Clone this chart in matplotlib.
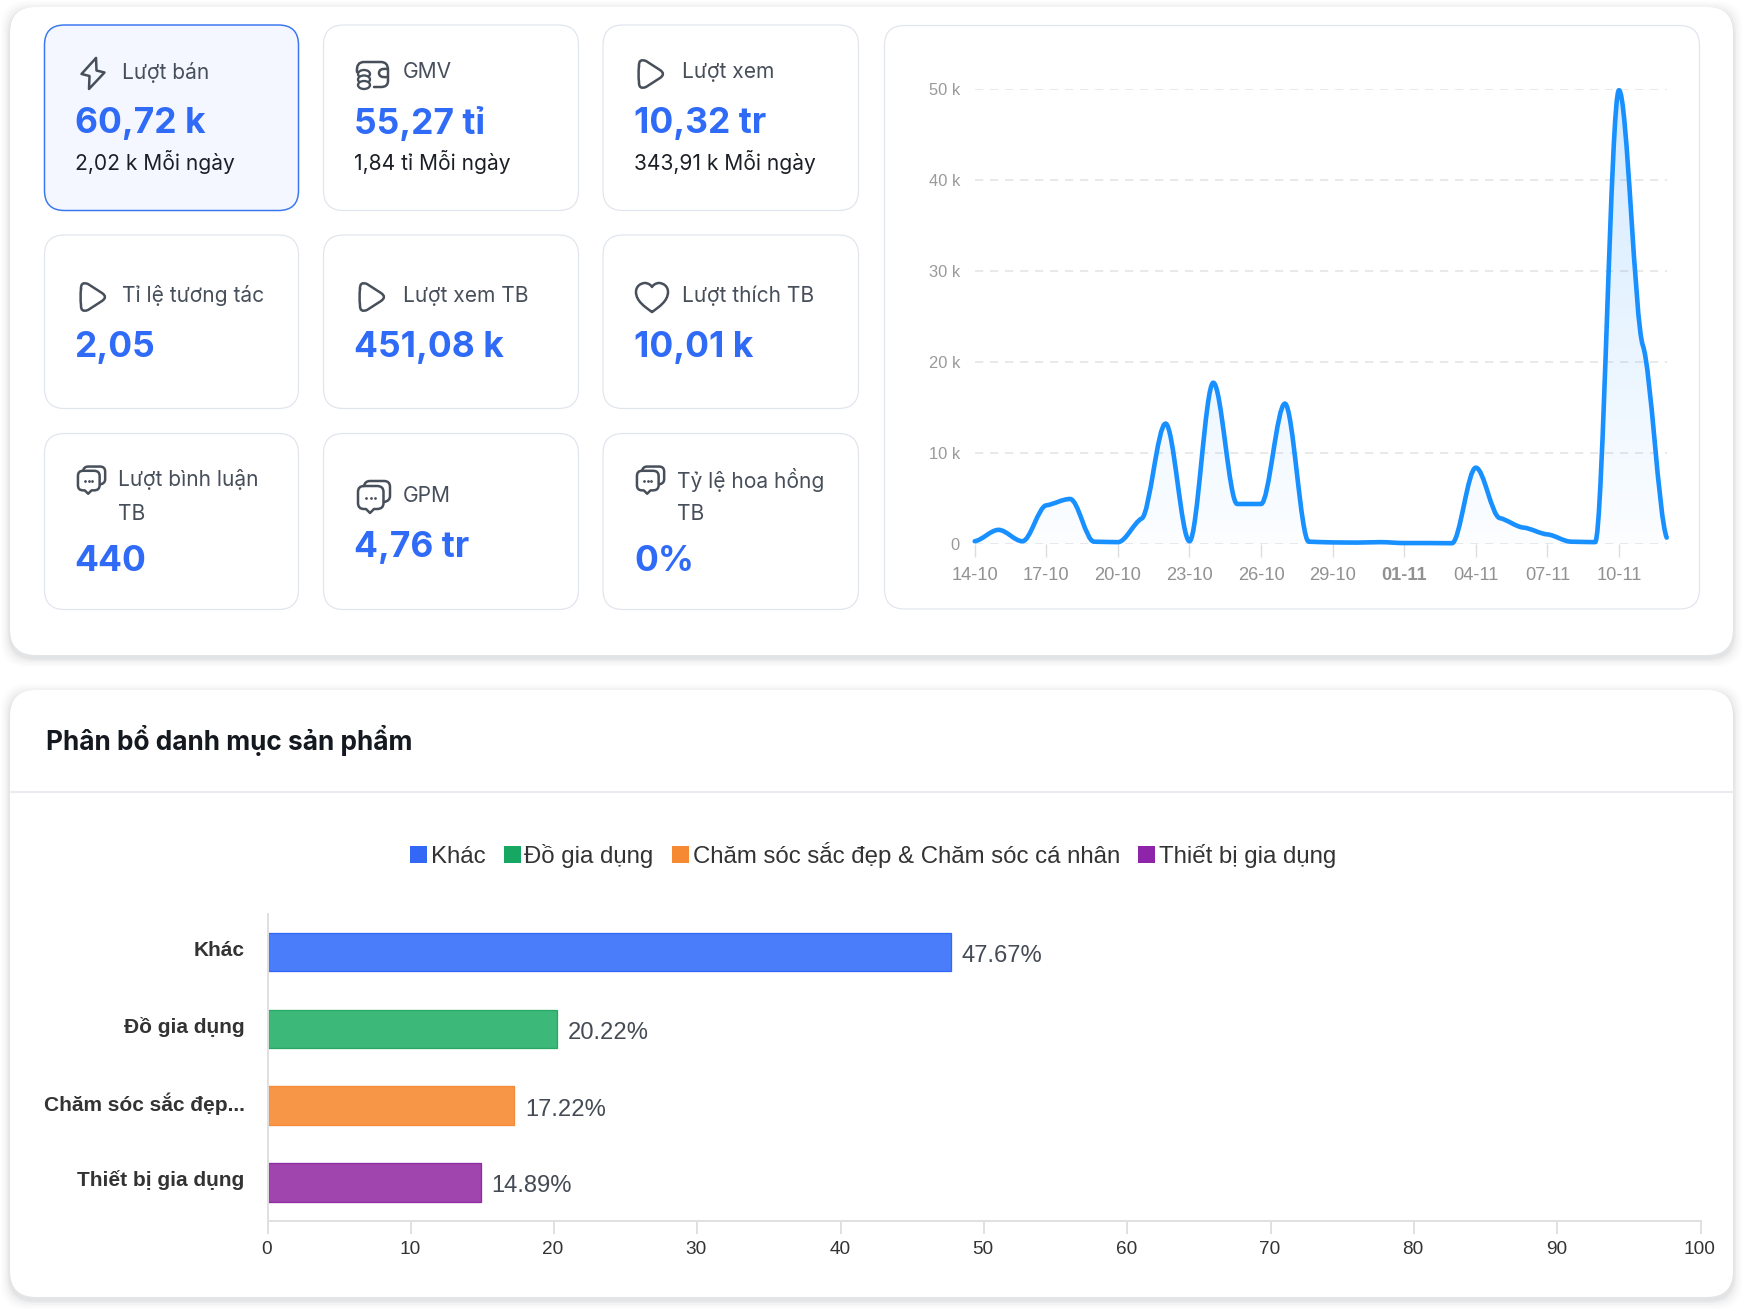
import numpy as np
from matplotlib import pyplot as plt
from matplotlib.patches import Ellipse, FancyBboxPatch, PathPatch, Rectangle
from matplotlib.path import Path
from matplotlib.transforms import ScaledTranslation

# 指标卡片
card_titles = [['Lượt bán', 'GMV', 'Lượt xem'],
               ['Tỉ lệ tương tác', 'Lượt xem TB', 'Lượt thích TB'],
               ['Lượt bình luận\nTB', 'GPM', 'Tỷ lệ hoa hồng\nTB']]
card_values = [['60,72 k', '55,27 tỉ', '10,32 tr'],
               ['2,05', '451,08 k', '10,01 k'],
               ['440', '4,76 tr', '0%']]
card_daily = ['2,02 k Mỗi ngày', '1,84 tỉ Mỗi ngày', '343,91 k Mỗi ngày']

# 折线图
daily_sales = [250, 1500, 250, 4200, 4900, 200, 150, 2750, 13200, 250,
               17700, 4350, 4350, 15400, 200, 120, 100, 150, 50, 50,
               30, 8350, 2800, 1750, 1000, 200, 150, 49900, 21800, 650]
date_labels = ['14-10', '17-10', '20-10', '23-10', '26-10', '29-10', '01-11', '04-11', '07-11', '10-11']
y_ticks = [0, 10000, 20000, 30000, 40000, 50000]
y_labels = ['0', '10 k', '20 k', '30 k', '40 k', '50 k']

# 条形图
categories = ['Khác', 'Đồ gia dụng', 'Chăm sóc sắc đẹp...', 'Thiết bị gia dụng']
legend_names = ['Khác', 'Đồ gia dụng', 'Chăm sóc sắc đẹp & Chăm sóc cá nhân', 'Thiết bị gia dụng']
shares = [47.67, 20.22, 17.22, 14.89]
bar_fill = ['#4a7dfa', '#3cb878', '#f79646', '#a044ae']
bar_edge = ['#3268f5', '#27a865', '#f58a3a', '#8e2da0']
legend_colors = ['#3268f5', '#16a862', '#f58a32', '#8e24aa']

W, H = 1744, 1311
px = 72 / 100

fig = plt.figure(figsize=(W / 100, H / 100), dpi=100)

# 背景层, 坐标单位是像素
bg = fig.add_axes([0, 0, 1, 1])
bg.set_xlim(0, W)
bg.set_ylim(H, 0)
bg.axis('off')


def round_box(x0, y0, x1, y1, r, fc='white', ec='none', lw=1.0, z=1, alpha=None):
    p = FancyBboxPatch((x0 + r, y0 + r), x1 - x0 - 2 * r, y1 - y0 - 2 * r,
                       boxstyle='round,pad=%f,rounding_size=%f' % (r, r),
                       fc=fc, ec=ec, lw=lw, zorder=z, alpha=alpha)
    bg.add_patch(p)


# 大卡片和阴影
for x0, y0, x1, y1 in [(10, 7, 1733, 655), (10, 690, 1733, 1297)]:
    for grow, a in [(9, 0.012), (7, 0.016), (5, 0.02), (3, 0.03), (1.5, 0.04)]:
        round_box(x0 - grow, y0 - grow + 3, x1 + grow, y1 + grow + 3, 26, fc='#1f2a3a', z=0.5, alpha=a)
    round_box(x0, y0, x1, y1, 26)
bg.plot([10, 1733], [791.5, 791.5], color='#e8ebf0', lw=1.4, zorder=2)

col_x = [(44.5, 298.5), (323.5, 578.5), (603, 858.5)]
row_y = [(25, 210.5), (235, 408.5), (433.5, 609.5)]
ink = '#474f5b'
blue = '#2f6bf6'
M, L, C3, C4 = Path.MOVETO, Path.LINETO, Path.CURVE3, Path.CURVE4


def stroke(x, y, pts, codes=None, s=1.0):
    verts = [(x + a * s, y + b * s) for a, b in pts]
    bg.add_patch(PathPatch(Path(verts, codes), fc='none', ec=ink, lw=2.5 * px, zorder=4,
                           capstyle='round', joinstyle='round'))


def icon_bolt(x, y, s=1.0):
    pts = [(3, -16), (-11.5, 0), (-3.5, 2), (-4, 15), (11.5, -1.5), (3.5, -3.5), (3, -16)]
    stroke(x, y, pts, None, s)


def icon_play(x, y, s=1.0):
    pts = [(-12, -8), (-12.5, -16), (-5, -13), (9, -4), (15, 0), (9, 4), (-5, 13), (-12.5, 16), (-12, 8),
           (-13, 0), (-12, -8)]
    stroke(x, y, pts, [M, C3, C3, L, C3, C3, L, C3, C3, C3, C3], s)


def icon_heart(x, y, s=1.0):
    pts = [(0, 15), (-7, 10), (-16, 4), (-16, -5), (-16, -11), (-11, -14), (-7, -14),
           (-4, -14), (-1, -12), (0, -10), (1, -12), (4, -14), (7, -14),
           (11, -14), (16, -11), (16, -5), (16, 4), (7, 10), (0, 15)]
    stroke(x, y, pts, [M] + [C4] * 18, s)


def icon_chat(x, y, s=1.0):
    # 后面一层气泡
    stroke(x, y, [(-7, -12), (-6, -17), (-1, -17), (13, -17), (19, -17), (19, -11), (19, -2), (19, 3), (13, 4)],
           [M, C3, C3, L, C3, C3, L, C3, C3], s)
    # 前面一层气泡
    pts = [(-7, -12), (6, -12), (12.5, -12), (12.5, -6), (12.5, 5), (12.5, 11), (6, 11), (3, 11), (-1, 15), (-5, 11),
           (-7, 11), (-13, 11), (-13, 5), (-13, -6), (-13, -12), (-7, -12)]
    stroke(x, y, pts, [M, L, C3, C3, L, C3, C3, L, L, L, L, C3, C3, L, C3, C3], s)
    bg.scatter([x - 5 * s, x - 0.5 * s, x + 4 * s], [y, y, y], s=4, color=ink, zorder=4, lw=0)


def icon_coin(x, y, s=1.0):
    # 钱包外框
    stroke(x, y, [(-15, -2), (-16, -12), (-8, -12), (9, -12), (16, -12), (16, -4), (16, 7), (16, 13), (9, 13), (2, 13)],
           [M, C3, C3, L, C3, C3, L, C3, C3, L], s)
    # 搭扣
    stroke(x, y, [(15, -5), (7, -6), (7, -1), (7, 4), (15, 3)], [M, C3, C3, C3, C3], s)
    # 硬币
    for dy in [0, 5.5, 11]:
        bg.add_patch(Ellipse((x - 8 * s, y + dy * s), 12 * s, 8 * s, fc='white', ec=ink, lw=2.3 * px, zorder=4))


icons = [[(icon_bolt, 93, 74, 1), (icon_coin, 372, 74, 1), (icon_play, 651, 74, 1)],
         [(icon_play, 93, 297, 1), (icon_play, 372, 297, 1), (icon_heart, 652, 297, 1)],
         [(icon_chat, 89, 481, 0.85), (icon_chat, 371, 498, 1), (icon_chat, 648, 481, 0.85)]]

val_x = [74.5, 354, 634]
title_x = [122, 402.5, 682]
wrap_x = [118, None, 677]
small = 21 * px
large = 35.5 * px


def put(x, y, s, size=small, color=ink, weight='normal'):
    bg.text(x, y, s, fontsize=size, family='Inter', color=color, weight=weight, va='center', zorder=5)


for r in range(3):
    for c in range(3):
        x0, x1 = col_x[c]
        y0, y1 = row_y[r]
        if r == 0 and c == 0:
            round_box(x0, y0, x1, y1, 20, fc='#f4f7ff', ec='#3b78f0', lw=1.5 * px, z=2)
        else:
            round_box(x0, y0, x1, y1, 20, fc='white', ec='#e0e5ed', lw=1.2 * px, z=2)
        draw, ix, iy, s = icons[r][c]
        draw(ix, iy, s)
        if r == 0:
            put(title_x[c], 72.5, card_titles[r][c])
            put(val_x[c], 124, card_values[r][c], large, blue, 'bold')
            put(val_x[c], 162.5, card_daily[c], small, '#1c2026')
        elif r == 1:
            put(title_x[c], 296, card_titles[r][c])
            put(val_x[c], 347, card_values[r][c], large, blue, 'bold')
        elif c == 1:
            put(title_x[c], 496, card_titles[r][c])
            put(val_x[c], 548, card_values[r][c], large, blue, 'bold')
        else:
            first, second = card_titles[r][c].split('\n')
            put(wrap_x[c], 480, first)
            put(wrap_x[c], 514, second)
            put(val_x[c], 561.5, card_values[r][c], large, blue, 'bold')

# 折线图外框
round_box(884.5, 25.5, 1699.5, 609, 20, fc='white', ec='#e0e5ed', lw=1.2 * px, z=2)

bg.text(46, 741, 'Phân bổ danh mục sản phẩm', fontsize=26.2 * px, family='Inter', weight='bold', color='#14181f', va='center', zorder=5)


def add_axes_px(x0, y0, x1, y1):
    return fig.add_axes([x0 / W, 1 - y1 / H, (x1 - x0) / W, (y1 - y0) / H])


def shift(label, dx, dy):
    label.set_transform(label.get_transform() + ScaledTranslation(dx / 100, dy / 100, fig.dpi_scale_trans))


# 折线图
ax = add_axes_px(974.7, 89.3, 1666.7, 543.5)
ax.patch.set_alpha(0)
days = np.arange(len(daily_sales))
vals = np.array(daily_sales, dtype=float)

# 切线取得比较平, 单调段上会出现小台阶
d = np.diff(vals)
m = np.zeros(len(vals))
for i in range(1, len(vals) - 1):
    if d[i - 1] * d[i] > 0:
        m[i] = 0.3 * 2 * d[i - 1] * d[i] / (d[i - 1] + d[i])
m[0], m[-1] = d[0] * 0.3, d[-1] * 0.3

verts = [(days[0], vals[0])]
codes = [M]
for i in range(len(vals) - 1):
    verts += [(days[i] + 1 / 3, vals[i] + m[i] / 3), (days[i + 1] - 1 / 3, vals[i + 1] - m[i + 1] / 3), (days[i + 1], vals[i + 1])]
    codes += [C4] * 3

rgba = np.zeros((256, 1, 4))
rgba[:, 0, 0] = 0x18 / 255
rgba[:, 0, 1] = 0x90 / 255
rgba[:, 0, 2] = 1
rgba[:, 0, 3] = np.linspace(0.19, 0.015, 256)
img = ax.imshow(rgba, extent=(0, 29, 0, 50000), origin='upper', aspect='auto', zorder=1)
closed = Path(verts + [(29, 0), (0, 0), (0, vals[0])], codes + [L] * 3)
img.set_clip_path(PathPatch(closed, transform=ax.transData))
ax.set_xlim(0, 29)
ax.set_ylim(0, 50000)

ax.add_patch(PathPatch(Path(verts, codes), fc='none', ec='#1890ff', lw=4.6 * px, zorder=3, clip_on=False,
                       capstyle='round', joinstyle='round'))

ax.set_yticks(y_ticks, y_labels)
ax.set_xticks(days[::3], date_labels)
ax.yaxis.grid(True, color='#e3e3e3', lw=1.5 * px, dashes=(5.5, 4.5))
ax.set_axisbelow(True)
for s in ax.spines.values():
    s.set_visible(False)
ax.tick_params(axis='y', length=0, pad=10.6, labelsize=16.5 * px, labelcolor='#9a9a9a')
ax.tick_params(axis='x', length=9, width=1, color='#dddddd', pad=8, labelsize=18.3 * px, labelcolor='#919191')
for t in ax.get_xticklabels() + ax.get_yticklabels():
    t.set_family('Liberation Sans')
ax.get_xticklabels()[6].set_fontweight('bold')

# 条形图
bx = add_axes_px(267.5, 913.6, 1700.5, 1220.8)
bx.patch.set_alpha(0)
ypos = range(len(categories))
bars = bx.barh(ypos, shares, height=0.5, color=bar_fill, edgecolor=bar_edge, linewidth=1.3 * px)
bx.set_xlim(0, 100)
bx.set_ylim(len(categories) - 0.5, -0.5)
bx.set_yticks(list(ypos), categories, family='Liberation Sans', weight='bold', fontsize=20.9 * px, color='#333333')
bx.tick_params(axis='y', length=0, pad=16.4)
bx.set_xticks(range(0, 101, 10))
bx.tick_params(axis='x', length=9, width=1.4, color='#e0e0e0', pad=5.8, labelsize=19 * px, labelcolor='#333333')
for t in bx.get_xticklabels():
    t.set_family('Liberation Sans')
    shift(t, -1, 0)
for t in bx.get_yticklabels():
    shift(t, 0, 4)
bx.spines['top'].set_visible(False)
bx.spines['right'].set_visible(False)
for side in ['left', 'bottom']:
    bx.spines[side].set_color('#e0e0e0')
    bx.spines[side].set_linewidth(1.4)
for v, y in zip(shares, ypos):
    bx.annotate('%.2f%%' % v, (v, y), xytext=(10.5 * px, -4 * px), textcoords='offset points', va='center', ha='left',
                family='Liberation Sans', fontsize=23.7 * px, color='#444b55')

# 图例
handles = [Rectangle((0, 0), 1, 1, fc=c, ec='none') for c in legend_colors]
fig.legend(handles, legend_names, ncol=4, loc='center', bbox_to_anchor=(873 / W, 1 - 855 / H), frameon=False,
           prop={'family': 'Liberation Sans', 'size': 24 * px}, handlelength=0.72, handleheight=0.72, handletextpad=0.15,
           columnspacing=0.75, labelcolor='#333333')

plt.savefig('out.png', dpi=100)
